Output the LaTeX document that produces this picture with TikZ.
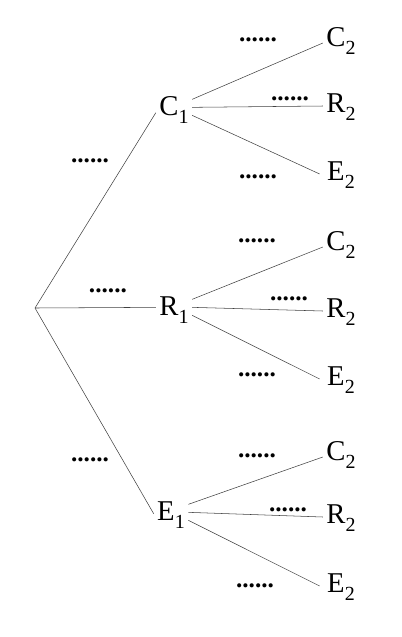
\documentclass[tikz,border=0pt]{standalone}
\usepackage{fontspec}
\setmainfont{Liberation Serif}
\newcommand{\sub}[2]{#1\raisebox{-0.28em}{\fontsize{15}{15}\selectfont #2}}
\begin{document}
\begin{tikzpicture}[x=0.75pt,y=-0.75pt,line width=0.4pt,every node/.style={font=\fontsize{21.5}{24}\selectfont,inner sep=2.5pt}]
\useasboundingbox (0,0) rectangle (402,637);
\tikzset{branch/.style={draw=black!75},dots/.style={inner sep=0pt,font=\fontsize{19}{24}\selectfont\bfseries}}
\coordinate (root) at (35,308);
\node (c1) at (174,110) {\sub{C}{1}};
\node (r1) at (174,310) {\sub{R}{1}};
\node (e1) at (171,515) {\sub{E}{1}};
\node (c1c) at (341,41) {\sub{C}{2}};
\node (c1r) at (341,107) {\sub{R}{2}};
\node (c1e) at (341,175) {\sub{E}{2}};
\node (r1c) at (341,245) {\sub{C}{2}};
\node (r1r) at (341,312) {\sub{R}{2}};
\node (r1e) at (341,380) {\sub{E}{2}};
\node (e1c) at (341,455) {\sub{C}{2}};
\node (e1r) at (341,518) {\sub{R}{2}};
\node (e1e) at (341,587) {\sub{E}{2}};
\draw[branch] (root) -- ([yshift=-2pt]c1.west);
\draw[branch] (root) -- ([yshift=2pt]r1.west);
\draw[branch] (root) -- ([yshift=1pt]e1.west);
\draw[branch] ([yshift=8pt]c1.east) -- ([yshift=-1.5pt]c1c.west);
\draw[branch] ([yshift=2pt]c1.east) -- ([yshift=0.75pt]c1r.west);
\draw[branch] ([yshift=-4pt]c1.east) -- ([xshift=-3pt,yshift=0.75pt]c1e.west);
\draw[branch] ([yshift=8pt]r1.east) -- ([yshift=-1.5pt]r1c.west);
\draw[branch] ([yshift=2pt]r1.east) -- ([yshift=0.75pt]r1r.west);
\draw[branch] ([yshift=-4pt]r1.east) -- ([xshift=-3pt,yshift=0.75pt]r1e.west);
\draw[branch] ([yshift=8pt]e1.east) -- ([yshift=-1.5pt]e1c.west);
\draw[branch] ([yshift=2pt]e1.east) -- ([yshift=0.75pt]e1r.west);
\draw[branch] ([yshift=-4pt]e1.east) -- ([xshift=-3pt,yshift=0.75pt]e1e.west);
\node[dots] (pc1) at (90,161) {......};
\node[dots] (pr1) at (108,291) {......};
\node[dots] (pe1) at (90,460) {......};
\node[dots] (pc1c) at (258,40) {......};
\node[dots] (pc1r) at (290,99) {......};
\node[dots] (pc1e) at (258,177) {......};
\node[dots] (pr1c) at (257,241) {......};
\node[dots] (pr1r) at (289,299) {......};
\node[dots] (pr1e) at (257,375) {......};
\node[dots] (pe1c) at (257,456) {......};
\node[dots] (pe1r) at (288,510) {......};
\node[dots] (pe1e) at (255,586) {......};
\end{tikzpicture}
\end{document}
